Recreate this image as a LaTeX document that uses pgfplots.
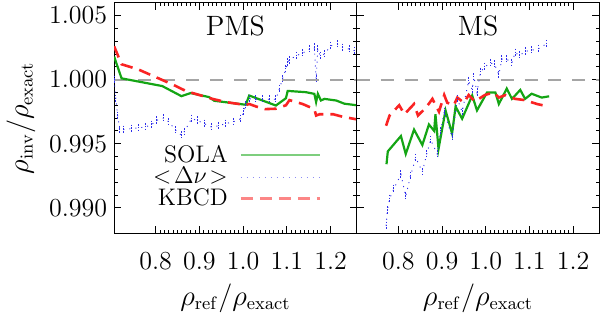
\documentclass[border=0pt]{standalone}
\usepackage{pgfplots}
\pgfplotsset{compat=1.18}
\definecolor{cgreen}{RGB}{20,165,20}
\definecolor{cred}{RGB}{250,35,35}
\definecolor{cblue}{RGB}{45,45,235}
\definecolor{cgray}{RGB}{165,165,165}
\begin{document}
\begin{tikzpicture}
\pgfplotsset{
  panel/.style={
    scale only axis, width=121.5pt, height=115.5pt,
    xmin=0.705, xmax=1.26, ymin=0.988, ymax=1.006,
    xtick={0.8,0.9,1.0,1.1,1.2}, xticklabels={0.8,0.9,1.0,1.1,1.2},
    minor x tick num=9,
    ytick={0.990,0.995,1.000,1.005},
    minor y tick num=4,
    tick align=inside, major tick length=3.5pt, minor tick length=1.8pt,
    tick style={black, line width=0.4pt},
    axis line style={line width=0.6pt},
    tick label style={font=\fontsize{13}{13}\selectfont},
    x tick label style={yshift=-6pt},
    xlabel={$\rho_{\rm ref}/\rho_{\rm exact}$},
    label style={font=\fontsize{13.5}{13.5}\selectfont},
    clip=true,
  },
  greenl/.style={cgreen, line width=1.1pt},
  redl/.style={cred, line width=1.3pt, dash pattern=on 6pt off 3.5pt},
  bluel/.style={cblue, line width=0.45pt, dash pattern=on 0.5pt off 2.5pt,
     mark=|, mark size=2pt, mark options={solid, cblue, line width=0.5pt, dash pattern=on 0.8pt off 0.6pt}},
  grayl/.style={cgray, line width=0.9pt, dash pattern=on 6.5pt off 5.5pt},
}
\begin{axis}[panel, name=left,
  yticklabels={0.990,0.995,1.000,1.005},
  ylabel={$\rho_{\rm inv}/\rho_{\rm exact}$},
  ylabel style={xshift=0pt},
  legend plot pos=right, legend cell align=right,
  legend style={at={(rel axis cs:0.88,0.245)}, anchor=east, draw=none, fill=none,
    font=\fontsize{12}{12}\selectfont, row sep=-3pt, column sep=4pt},
  legend image code/.code={\draw[#1, opacity=0.55] (0cm,0cm) -- (1.39cm,0cm);},
]
\addplot[grayl, forget plot] coordinates {(0.705,1.0) (1.26,1.0)};
\addplot[greenl] coordinates {
(0.705,1.0018) (0.722,1.0001) (0.815,0.9995) (0.859,0.99871) (0.880,0.99895)
(0.922,0.99864) (0.934,0.99835) (0.976,0.99817) (1.006,0.99804) (1.014,0.99876)
(1.075,0.99798) (1.098,0.99855) (1.102,0.99912) (1.144,0.99902) (1.163,0.99889)
(1.167,0.99825) (1.171,0.99889) (1.178,0.99837) (1.186,0.9985) (1.213,0.99837)
(1.232,0.99812) (1.26,0.9980)};
\addlegendentry{SOLA}
\addplot[bluel] coordinates {
(0.705,1.0000) (0.709,0.9985) (0.713,0.9972) (0.718,0.9961) (0.727,0.9961)
(0.744,0.99618) (0.760,0.99623) (0.777,0.99631) (0.791,0.99649) (0.802,0.99682)
(0.819,0.99701) (0.830,0.99670) (0.846,0.99605) (0.859,0.99566) (0.865,0.99592)
(0.882,0.99695) (0.895,0.99682) (0.911,0.99657) (0.927,0.99631) (0.944,0.99639)
(0.960,0.99657) (0.977,0.99670) (0.995,0.99695) (1.002,0.9975) (1.006,0.9980)
(1.014,0.9985) (1.029,0.99847) (1.044,0.99847) (1.061,0.99847) (1.075,0.99847)
(1.083,0.99928) (1.090,1.00005) (1.098,1.00083) (1.102,1.00135) (1.105,1.0015)
(1.121,1.00186) (1.136,1.00207) (1.152,1.00238) (1.163,1.00251) (1.167,1.00005)
(1.171,1.00238) (1.176,1.00186) (1.186,1.0020) (1.201,1.00264) (1.216,1.00277)
(1.228,1.0025) (1.243,1.00238) (1.255,1.00225)};
\addlegendentry{$<\!\Delta\nu\!>$}
\addplot[redl] coordinates {
(0.705,1.0026) (0.722,1.0012) (0.76,1.0008) (0.80,1.0002) (0.84,0.9996)
(0.87,0.9991) (0.90,0.9988) (0.93,0.9985) (0.96,0.99825) (0.99,0.9981)
(1.005,0.9980) (1.014,0.9981) (1.03,0.9979) (1.05,0.9977) (1.075,0.99773)
(1.098,0.9980) (1.106,0.9984) (1.136,0.9981) (1.163,0.9977) (1.167,0.9972)
(1.175,0.9973) (1.206,0.9973) (1.228,0.9971) (1.26,0.9969)};
\addlegendentry{KBCD}
\node[font=\fontsize{14}{14}\selectfont] at (rel axis cs:0.5,0.9) {PMS};
\end{axis}
\begin{axis}[panel, name=right, at={(left.south east)}, anchor=south west,
  yticklabels={}]
\addplot[grayl] coordinates {(0.705,1.0) (1.26,1.0)};
\addplot[greenl] coordinates {
(0.773,0.9934) (0.776,0.9944) (0.806,0.9956) (0.817,0.9942) (0.836,0.9961)
(0.855,0.9949) (0.870,0.9965) (0.882,0.9960) (0.885,0.9973) (0.892,0.9946)
(0.908,0.9976) (0.923,0.9958) (0.931,0.9979) (0.946,0.99695) (0.969,0.99876)
(0.980,0.9976) (1.003,0.9990) (1.022,0.9990) (1.030,0.9981) (1.048,0.9993)
(1.060,0.9985) (1.079,0.9992) (1.090,0.9985) (1.105,0.9989) (1.128,0.9986)
(1.145,0.9987)};
\addplot[bluel] coordinates {
(0.772,0.9886) (0.775,0.9898) (0.780,0.9907) (0.790,0.9915) (0.806,0.9926)
(0.817,0.9909) (0.828,0.9925) (0.840,0.9939) (0.855,0.9928) (0.865,0.9942)
(0.874,0.9953) (0.889,0.9942) (0.897,0.9960) (0.905,0.9975) (0.923,0.9955)
(0.935,0.9985) (0.946,0.9975) (0.961,0.9999) (0.969,0.9992) (0.973,1.0002)
(0.980,0.9990) (0.988,1.0006) (0.998,1.0010) (1.010,1.0013) (1.020,1.0012)
(1.030,1.0004) (1.037,1.0016) (1.048,1.0016) (1.060,1.0013) (1.067,1.0021)
(1.078,1.0019) (1.090,1.0022) (1.105,1.0023) (1.120,1.0024) (1.139,1.0028)};
\addplot[redl] coordinates {
(0.772,0.9964) (0.780,0.9972) (0.802,0.9980) (0.814,0.9973) (0.836,0.9981)
(0.845,0.9972) (0.863,0.9978) (0.878,0.9985) (0.893,0.9975) (0.905,0.9988)
(0.912,0.9982) (0.927,0.9980) (0.935,0.9986) (0.950,0.9982) (0.961,0.9988)
(0.975,0.9983) (0.998,0.9988) (1.018,0.9990) (1.030,0.9986) (1.045,0.9988)
(1.067,0.9985) (1.090,0.9984) (1.117,0.9981) (1.143,0.9979)};
\node[font=\fontsize{14}{14}\selectfont] at (rel axis cs:0.5,0.9) {MS};
\end{axis}
\end{tikzpicture}
\end{document}
